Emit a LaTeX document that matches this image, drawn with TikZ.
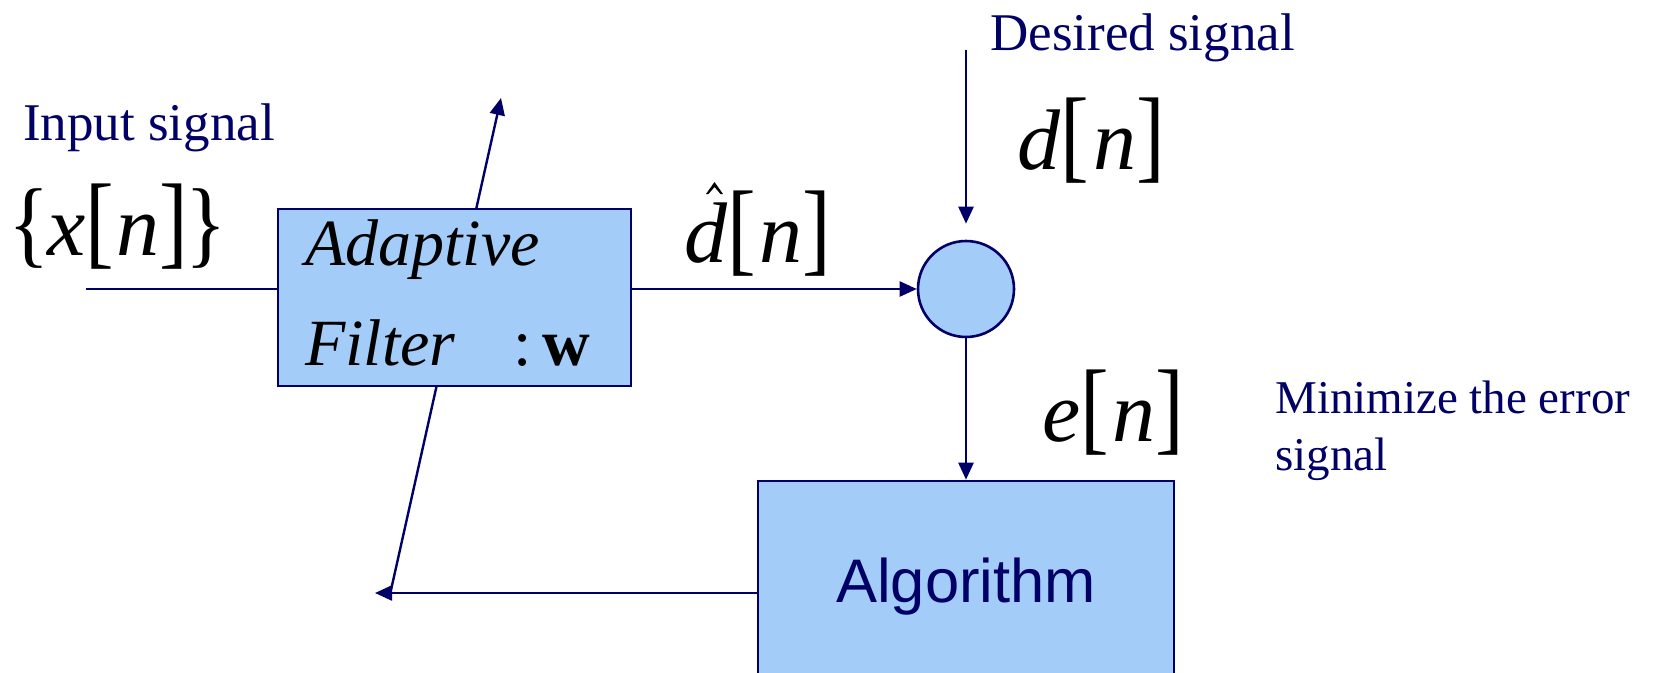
\documentclass[tikz,border=0pt]{standalone}
\usepackage{fontspec}
\setmainfont{Liberation Serif}
\newfontfamily\algfont{Liberation Sans}
\usetikzlibrary{arrows.meta}
\definecolor{navy}{HTML}{000066}
\definecolor{boxblue}{HTML}{A3CDF8}
\newcommand{\bigL}{\scalebox{1}[1.2]{[}}
\newcommand{\bigR}{\scalebox{1}[1.2]{]}}
\newcommand{\braceL}{\scalebox{1}[1.12]{\{}}
\newcommand{\braceR}{\scalebox{1}[1.12]{\}}}
\tikzset{
  blk/.style={draw=navy, fill=boxblue, line width=2.6pt, rectangle, inner sep=0pt},
  wire/.style={draw=navy, line width=2.4pt},
  arr/.style={wire, -{Triangle[length=17pt,width=15pt]}},
  lbl/.style={text=navy, inner sep=0pt, font=\fontsize{53}{57}\selectfont},
  mth/.style={text=black, inner sep=0pt, font=\fontsize{86}{90}\selectfont},
  boxtxt/.style={text=black, inner sep=0pt, font=\fontsize{66}{70}\selectfont},
}
\begin{document}
\begin{tikzpicture}[x=1pt,y=-1pt]
\useasboundingbox (0,0) rectangle (1656,672);
\clip (0,0) rectangle (1656,672);
% coordinates
\coordinate (adlo) at (391,590);
\coordinate (adhi) at (501,98);
\coordinate (in) at (86,289);
\coordinate (dtop) at (966,50);
\coordinate (fbend) at (375,593);
% adaptation arrow (behind the filter box)
\draw[arr] (adlo) -- (adhi);
% blocks
\node[blk, minimum width=353pt, minimum height=177pt] (filter) at (454.5,297.5) {};
\node[blk, circle, minimum size=96pt] (sum) at (966,289) {};
\node[blk, minimum width=416pt, minimum height=220pt] (alg) at (966,591) {};
% texts in blocks
\node[boxtxt, anchor=base west] (adap) at (305,265) {\itshape Adaptive};
\node[boxtxt, anchor=base west] (filt) at (305,365) {\itshape Filter};
\node[boxtxt, anchor=base west] (wvec) at (513,365) {:\,\textbf{w}};
\node[text=navy, inner sep=0pt, anchor=base, font=\algfont\fontsize{61.5}{64}\selectfont] (algtxt) at (966,602) {Algorithm};
% connectors
\draw[wire] (in) -- (in -| filter.west);
\draw[arr] (sum -| filter.east) -- (sum.west);
\draw[arr, shorten >=16pt] (dtop) -- (sum.north);
\draw[arr] (sum.south) -- (alg.north);
\draw[arr] (fbend -| alg.west) -- (fbend);
% labels
\node[lbl, anchor=base west] (inlbl) at (23,140) {Input signal};
\node[lbl, anchor=base west] (deslbl) at (990,50) {Desired signal};
\node[lbl, anchor=base west, align=left, font=\fontsize{47}{57}\selectfont] (minlbl) at (1275,470) {Minimize the error\\signal};
% math labels
\node[mth, anchor=base west] (xlbl) at (8,255) {\braceL\kern-2pt\textit{x}\bigL\kern2pt\textit{n}\bigR\kern-2pt\braceR};
\node[mth, anchor=base west] (dhat) at (684,262) {\textit{d}\bigL\kern3pt\textit{n}\bigR};
\fill (706,194) -- (714.5,182) -- (723,194) -- (720.5,194) -- (714.5,187) -- (708.5,194) -- cycle;
\node[mth, anchor=base west] (dlbl) at (1017,169) {\textit{d}\bigL\kern4pt\textit{n}\bigR};
\node[mth, anchor=base west] (elbl) at (1042,441) {\textit{e}\bigL\kern3pt\textit{n}\bigR};
\end{tikzpicture}
\end{document}
